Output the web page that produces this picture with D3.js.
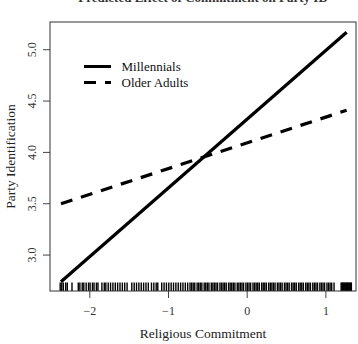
<!DOCTYPE html>
<html>
<head>
<meta charset="utf-8">
<script src="https://cdn.jsdelivr.net/npm/d3@7"></script>
<style>
  body { margin: 0; background: #fff; }
  text { font-family: "Liberation Serif", "DejaVu Serif", serif; }
</style>
</head>
<body>
<div id="chart"></div>
<script>
// data
const groups = ["Millennials", "Older Adults"];
const commitEnds = [-2.36, 1.27];
const millennialsFit = [2.74, 5.17];
const olderFit = [3.50, 4.41];
const xTicks = [-2, -1, 0, 1];
const yTicks = [3.0, 3.5, 4.0, 4.5, 5.0];
const rugValues = [
    -2.37, -2.35, -2.33, -2.30, -2.28, -2.22,
    -2.14, -2.12, -2.09, -2.07, -2.04, -2.01, -1.99, -1.96, -1.94, -1.91, -1.89,
    -1.84, -1.81, -1.79, -1.76, -1.73, -1.70, -1.67, -1.64, -1.61, -1.58, -1.55, -1.52,
    -1.46, -1.43, -1.40, -1.37, -1.34, -1.31, -1.28, -1.25, -1.21, -1.18, -1.15, -1.13,
    -1.08, -1.05, -1.02, -0.99, -0.96, -0.93, -0.90, -0.87, -0.84, -0.81, -0.78, -0.75, -0.72,
    -0.70, -0.68, -0.66, -0.63, -0.61, -0.59, -0.57, -0.54, -0.52, -0.50, -0.48, -0.45,
    -0.43, -0.41, -0.39, -0.37, -0.34, -0.32, -0.30, -0.28, -0.26, -0.23, -0.21, -0.19,
    -0.17, -0.15, -0.12, -0.10, -0.08, -0.06, -0.04, -0.01, 0.01, 0.03, 0.05, 0.08,
    0.10, 0.12, 0.14, 0.16, 0.19, 0.21, 0.23, 0.25, 0.28, 0.30, 0.32, 0.34, 0.36, 0.39,
    0.41, 0.43, 0.45, 0.48, 0.50, 0.52, 0.54, 0.57, 0.59, 0.61, 0.63, 0.66, 0.68, 0.70,
    0.72, 0.75, 0.77, 0.79, 0.81, 0.84, 0.86, 0.88, 0.90, 0.93, 0.95, 0.97, 0.99, 1.02,
    1.04, 1.06, 1.08, 1.11,
    1.20, 1.21, 1.22, 1.23, 1.24, 1.25, 1.26, 1.27, 1.28, 1.29, 1.30, 1.31, 1.32, 1.33
];

const width = 358, height = 344;
const box = { left: 50, right: 356, top: 22, bottom: 291 };

const svg = d3.select('#chart')
    .append('svg')
    .attr('width', width)
    .attr('height', height);

const x = d3.scaleLinear().domain([-2.4995, 1.389]).range([box.left, box.right]);
const y = d3.scaleLinear().domain([2.65, 5.27]).range([box.bottom, box.top]);

// title (cut off at the top edge, as in the reference)
svg.append('text')
    .attr('x', (box.left + box.right) / 2)
    .attr('y', 1.5)
    .attr('text-anchor', 'middle')
    .style('font-size', '13px')
    .style('font-weight', 'bold')
    .style('fill', '#333')
    .text('Predicted Effect of Commitment on Party ID');

// rug
svg.append('g')
    .selectAll('line')
    .data(rugValues)
    .enter()
    .append('line')
    .attr('x1', d => x(d))
    .attr('x2', d => x(d))
    .attr('y1', box.bottom)
    .attr('y2', box.bottom - 8.5)
    .attr('stroke', '#000')
    .attr('stroke-width', 1.4);

// fitted lines
const line = d3.line().x(d => x(d[0])).y(d => y(d[1]));

svg.append('path')
    .datum(commitEnds.map((c, i) => [c, millennialsFit[i]]))
    .attr('d', line)
    .attr('fill', 'none')
    .attr('stroke', '#000')
    .attr('stroke-width', 3.2);

svg.append('path')
    .datum(commitEnds.map((c, i) => [c, olderFit[i]]))
    .attr('d', line)
    .attr('fill', 'none')
    .attr('stroke', '#000')
    .attr('stroke-width', 3.2)
    .attr('stroke-dasharray', '12,9');

// axes
const xAxis = svg.append('g')
    .attr('transform', `translate(0,${box.bottom})`)
    .call(d3.axisBottom(x).tickValues(xTicks).tickSize(7).tickPadding(8).tickFormat(d3.format('d')));

const yAxis = svg.append('g')
    .attr('transform', `translate(${box.left},0)`)
    .call(d3.axisLeft(y).tickValues(yTicks).tickSize(7).tickFormat(d3.format('.1f')));

[xAxis, yAxis].forEach(a => {
    a.select('.domain').remove();
    a.selectAll('line').attr('stroke', '#444');
    a.selectAll('text')
        .style('font-family', '"Liberation Serif", serif')
        .style('font-size', '12px')
        .style('fill', '#333');
});

yAxis.selectAll('.tick').attr('transform', 'translate(0,0)');
yAxis.selectAll('.tick line')
    .attr('y1', d => y(d))
    .attr('y2', d => y(d));
yAxis.selectAll('.tick text')
    .attr('x', 0)
    .attr('y', 0)
    .attr('dy', 0)
    .attr('text-anchor', 'middle')
    .attr('transform', d => `translate(-14,${y(d)}) rotate(-90)`);

// plot box
svg.append('rect')
    .attr('x', box.left)
    .attr('y', box.top)
    .attr('width', box.right - box.left)
    .attr('height', box.bottom - box.top)
    .attr('fill', 'none')
    .attr('stroke', '#333')
    .attr('stroke-width', 1);

// axis titles
svg.append('text')
    .attr('x', (box.left + box.right) / 2)
    .attr('y', 338)
    .attr('text-anchor', 'middle')
    .style('font-size', '13.5px')
    .style('fill', '#222')
    .text('Religious Commitment');

svg.append('text')
    .attr('transform', `translate(15,${(box.top + box.bottom) / 2}) rotate(-90)`)
    .attr('text-anchor', 'middle')
    .style('font-size', '13.5px')
    .style('fill', '#222')
    .text('Party Identification');

// legend
const legend = svg.append('g');
groups.forEach((g, i) => {
    const ly = 66.5 + i * 16;
    legend.append('line')
        .attr('x1', 84).attr('x2', 111)
        .attr('y1', ly).attr('y2', ly)
        .attr('stroke', '#000')
        .attr('stroke-width', 3)
        .attr('stroke-dasharray', i === 0 ? null : '12,9');
    legend.append('text')
        .attr('x', 121.5)
        .attr('y', ly)
        .attr('dy', '0.35em')
        .style('font-size', '13px')
        .style('fill', '#111')
        .text(g);
});
</script>
</body>
</html>
